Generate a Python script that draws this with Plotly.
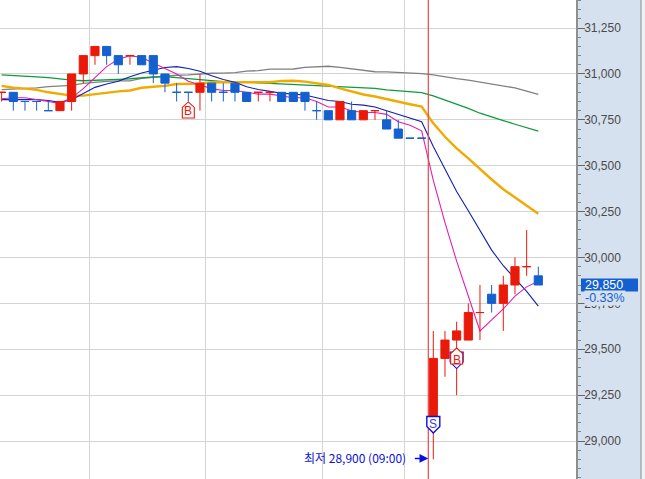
import plotly.graph_objects as go

# ---- data ----
idx = list(range(-1, 46))
opens  = [30900,30900,30850,30850,30800,30800,30850,31000,31100,31150,31100,31100,31100,31100,31000,30900,30900,30900,30950,30900,30950,30900,30900,30900,30900,30900,30900,30800,30800,30750,30800,30750,30800,30750,30700,30650,30650,29100,29450,29550,29550,29700,29800,29750,29850,29950,29900]
highs  = [30900,30900,30850,30850,30850,30850,31000,31100,31150,31150,31100,31100,31100,31100,31000,30950,30900,31000,30950,30950,30950,30900,30900,30900,30900,30900,30900,30850,30800,30850,30850,30800,30800,30800,30750,30650,30650,29600,29600,29650,29750,29850,29850,29900,30000,30150,29950]
lows   = [30850,30800,30800,30800,30800,30800,30800,30950,31050,31050,31000,31050,31050,30950,30900,30850,30850,30800,30850,30850,30850,30850,30850,30850,30850,30850,30800,30750,30750,30750,30750,30750,30750,30700,30650,30650,30650,28900,29350,29250,29550,29550,29700,29600,29800,29900,29850]
closes = [30900,30850,30850,30850,30800,30850,31000,31100,31150,31100,31050,31100,31050,31000,30950,30900,30900,30950,30900,30900,30900,30850,30900,30900,30850,30850,30850,30800,30750,30850,30750,30800,30800,30700,30650,30650,30650,29450,29550,29600,29700,29700,29750,29850,29950,29950,29850]
red_days = [-1,4,5,6,7,10,16,21,22,28,30,31,36,37,38,39,40,42,43,44]

ma5 = [30865,30870,30870,30860,30850,30840,30870,30920,30980,31040,31080,31100,31090,31060,31030,31000,30960,30940,30920,30910,30910,30900,30890,30890,30880,30870,30870,30850,30820,30820,30800,30790,30790,30780,30740,30720,30690,30420,30190,29980,29790,29600,29660,29720,29790,29840,29870]
ma10 = [30860,30860,30860,30860,30855,30845,30860,30895,30927,30945,30960,30985,31005,31020,31035,31040,31030,31015,30990,30970,30955,30930,30915,30905,30895,30890,30885,30870,30855,30850,30835,30830,30820,30800,30780,30760,30740,30605,30485,30360,30255,30145,30040,29955,29885,29815,29735]
ma20 = [30935,30925,30920,30913,30900,30890,30882,30882,30890,30900,30905,30910,30925,30930,30935,30945,30947,30947,30955,30955,30955,30955,30955,30955,30962,30963,30958,30950,30940,30922,30903,30888,30877,30862,30850,30835,30822,30731,30658,30595,30540,30482,30425,30372,30328,30285,30238]
ma60 = [30995,30990,30987,30984,30980,30971,30966,30963,30967,30967,30971,30974,30980,30984,30985,30980,30973,30967,30962,30958,30958,30955,30951,30949,30944,30944,30942,30938,30935,30933,30928,30925,30922,30913,30909,30906,30898,30880,30858,30835,30813,30786,30764,30746,30726,30707,30688]
ma120 = [30915,30917,30920,30924,30931,30935,30938,30949,30956,30960,30962,30962,30976,30982,30984,30993,30995,31000,31004,31005,31007,31015,31018,31026,31026,31027,31036,31038,31042,31036,31029,31023,31012,31011,31009,31007,31002,30995,30984,30975,30967,30956,30945,30935,30924,30907,30889]

y_ticks = [29000,29250,29500,29750,30000,30250,30500,30750,31000,31250]
grid_x = [6.5,16.5,26.5,33.5]
last_price = "29,850"
last_change = "-0.33%"
low_label = "최저 28,900 (09:00)"

RED="#ea1a0a"; BLUE="#1460cf"; MARK="#0a10e0"; PANEL="#d6e1ef"
Y_RANGE=[28793,31403]
fig = go.Figure()

for vals,col,w in [(ma120,"#808080",1.3),(ma60,"#0f9a3c",1.3),(ma20,"#f0aa00",2.4),(ma10,"#1020b0",1.1),(ma5,"#e020b0",1.1)]:
    fig.add_trace(go.Scatter(x=idx,y=vals,mode="lines",line=dict(color=col,width=w),showlegend=False,hoverinfo="skip"))

def subset(days):
    ii=[i for i,d in enumerate(idx) if d in days]
    return dict(x=[idx[i] for i in ii],open=[opens[i] for i in ii],high=[highs[i] for i in ii],low=[lows[i] for i in ii],close=[closes[i] for i in ii])
def candle(days,c):
    fig.add_trace(go.Candlestick(**subset(days),yaxis="y2",whiskerwidth=0,showlegend=False,
        increasing=dict(line=dict(color=c,width=1),fillcolor=c),
        decreasing=dict(line=dict(color=c,width=1),fillcolor=c)))
candle(set(red_days),RED)
candle(set(idx)-set(red_days),BLUE)

def marker_shape(xa,ya,path,line,w=1.1):
    return dict(type="path",xref="x",yref="y",xsizemode="pixel",ysizemode="pixel",xanchor=xa,yanchor=ya,path=path,
                fillcolor="white",line=dict(color=line,width=w),layer="above")
UP="M -6 -8 L 6 -8 L 6 2.5 L 0 8 L -6 2.5 Z"
DOWN="M -6.5 8 L 6.5 8 L 6.5 -2 L 0 -8.5 L -6.5 -2 Z"
PX=576.0
shapes=[dict(type="line",xref="x",yref="paper",x0=35.57,x1=35.57,y0=0,y1=1,line=dict(color="#e8484a",width=1.2),layer="above"),
        marker_shape(15,30804,UP,RED),
        marker_shape(38,29441,DOWN,MARK),
        marker_shape(38,29463,UP,RED),
        marker_shape(36,29090,DOWN,MARK,1.4),
        dict(type="rect",xref="paper",yref="paper",x0=1+65.5/PX,x1=1+70/PX,y0=0,y1=1,fillcolor="#f2f2f2",line=dict(width=0),layer="above"),
        dict(type="line",xref="paper",yref="paper",x0=1+65/PX,x1=1+65/PX,y0=0,y1=1,line=dict(color="#8f8f8f",width=1),layer="above"),
        dict(type="rect",xref="paper",yref="y",x0=1+5/PX,x1=1+62/PX,y0=29815,y1=29885,fillcolor=BLUE,line=dict(width=0),layer="above")]
ann=[dict(x=15,y=30800,text="B",showarrow=False,font=dict(color=RED,size=12,family="Liberation Sans")),
     dict(x=38,y=29441,text="B",showarrow=False,font=dict(color=RED,size=12,family="Liberation Sans")),
     dict(x=36,y=29095,text="S",showarrow=False,font=dict(color="#3a3ae0",size=12,family="Liberation Sans")),
     dict(x=35.57,y=28905,ax=-15,ay=0,text="",showarrow=True,arrowhead=2,arrowsize=1.1,arrowwidth=1.6,arrowcolor=MARK,standoff=0),
     dict(x=35.57,y=28905,xshift=-20,text=low_label,showarrow=False,xanchor="right",yshift=1,
          font=dict(color=MARK,size=12,family="Noto Sans CJK KR")),
     dict(xref="paper",x=1+8/PX,yref="y",y=29850,text=last_price,showarrow=False,xanchor="left",align="left",borderpad=0,
          font=dict(color="white",size=12.5,family="Liberation Sans")),
     dict(xref="paper",x=1+8/PX,yref="y",y=29850,yshift=-13,text=last_change,showarrow=False,xanchor="left",borderpad=0,
          bgcolor=PANEL,font=dict(color=BLUE,size=12.5,family="Liberation Sans"))]

fig.update_layout(width=645,height=479,margin=dict(l=0,r=69,t=0,b=0),paper_bgcolor=PANEL,plot_bgcolor="white",
    boxgap=0.3,boxgroupgap=0,boxmode="overlay",shapes=shapes,annotations=ann,showlegend=False,
    xaxis=dict(range=[-1.14,48.23],rangeslider=dict(visible=False),tickvals=grid_x,showticklabels=False,ticks="",showgrid=True,gridcolor="#d4d4d4",gridwidth=1.2,zeroline=False,showline=False),
    yaxis=dict(range=Y_RANGE,side="right",tickvals=y_ticks,tickformat=",",ticks="outside",ticklen=7,tickcolor="#666",
        ticklabelstandoff=-3,
        tickfont=dict(color="#4a4a4a",size=12,family="Liberation Sans"),gridcolor="#d4d4d4",gridwidth=1.2,zeroline=False,
        showline=True,linecolor="#8f8f8f",linewidth=1.5,
        minor=dict(dtick=50,tick0=0,ticks="outside",ticklen=3,tickcolor="#888",showgrid=False)),
    yaxis2=dict(range=Y_RANGE,overlaying="y",side="right",visible=False,showgrid=False,zeroline=False))
fig.write_html("out.html",config=dict(displayModeBar=False),post_script="document.body.style.margin='0';document.body.style.background='#d6e1ef';")
